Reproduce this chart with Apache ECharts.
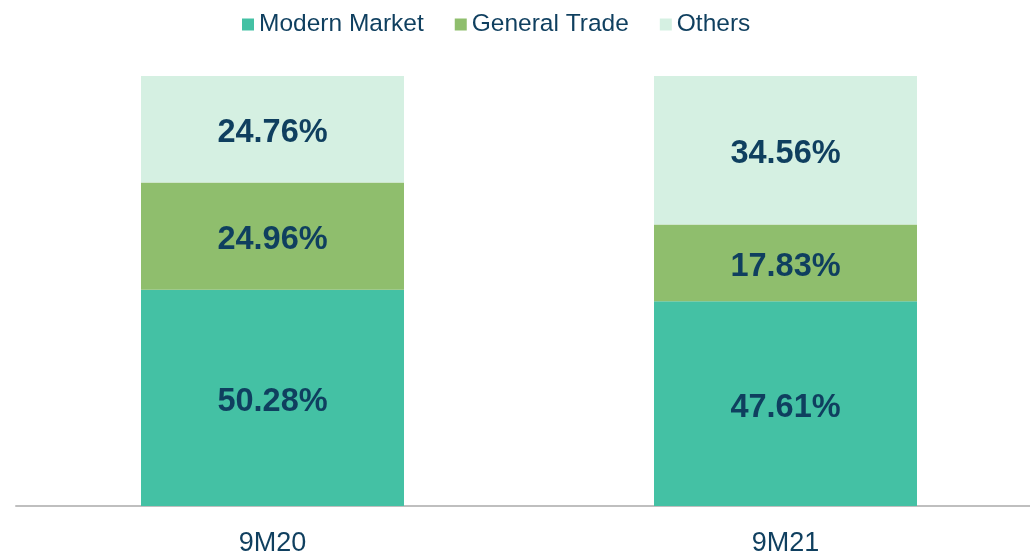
<!DOCTYPE html>
<html>
<head>
    <meta charset="utf-8">
    <title>Channel mix</title>
    <script src="https://cdn.jsdelivr.net/npm/echarts@6/dist/echarts.min.js"></script>
    <style type="text/css">
        *{margin: 0;padding: 0;}
        body{background: #fff;}
    </style>
</head>
<body>
<div id="main" style="width: 1030px;height: 554px;"></div>
<script type="text/javascript">
    var categories = ['9M20', '9M21'];
    var modernMarket = [50.28, 47.61];
    var generalTrade = [24.96, 17.83];
    var others = [24.76, 34.56];

    var textColor = '#0F3F5F';
    var labelStyle = {
        show: true,
        position: 'inside',
        offset: [0, 4],
        color: textColor,
        fontSize: 32.5,
        fontWeight: 'bold',
        fontFamily: 'Liberation Sans',
        formatter: function (p) { return p.value.toFixed(2) + '%'; }
    };

    var myChart = echarts.init(document.getElementById('main'));
    var option = {
        animation: false,
        legend: {
            left: 237,
            top: 7,
            itemWidth: 12,
            itemHeight: 12,
            itemGap: 31,
            icon: 'rect',
            textStyle: {
                fontSize: 24.5,
                color: textColor,
                fontFamily: 'Liberation Sans'
            },
            data: ['Modern Market', 'General Trade', 'Others']
        },
        grid: {
            left: 16,
            top: 76,
            width: 1026,
            bottom: 48,
            outerBoundsMode: 'none'
        },
        xAxis: {
            type: 'category',
            data: categories,
            axisTick: {show: false},
            axisLine: {
                lineStyle: {color: '#BFBFBF', width: 2}
            },
            axisLabel: {
                margin: 24,
                fontSize: 27,
                color: textColor,
                fontFamily: 'Liberation Sans'
            }
        },
        yAxis: {
            type: 'value',
            min: 0,
            max: 100,
            show: false,
            splitLine: {show: false}
        },
        series: [
            {
                name: 'Modern Market',
                type: 'bar',
                stack: 'total',
                barWidth: 263,
                itemStyle: {color: '#44C1A4'},
                label: labelStyle,
                data: modernMarket
            },
            {
                name: 'General Trade',
                type: 'bar',
                stack: 'total',
                barWidth: 263,
                itemStyle: {color: '#8FBE6D'},
                label: labelStyle,
                data: generalTrade
            },
            {
                name: 'Others',
                type: 'bar',
                stack: 'total',
                barWidth: 263,
                itemStyle: {color: '#D5F0E2'},
                label: labelStyle,
                data: others
            }
        ]
    };
    myChart.setOption(option);
</script>
</body>
</html>
